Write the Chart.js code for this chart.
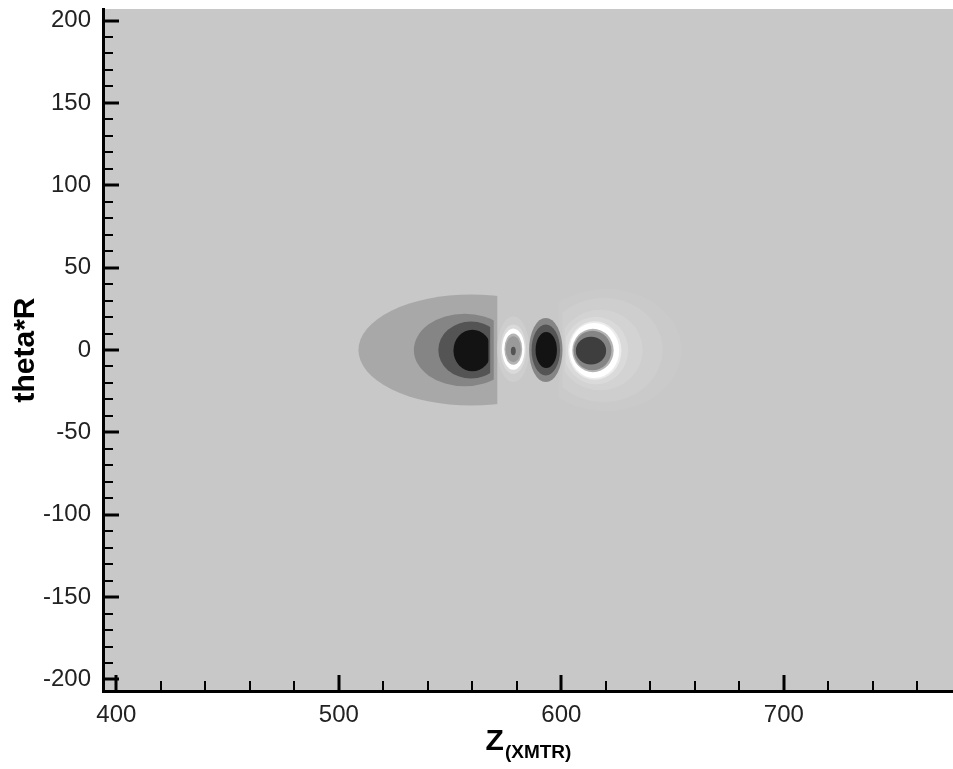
<!DOCTYPE html>
<html lang="en">
<head>
<meta charset="UTF-8">
<title>theta*R over Z(XMTR)</title>
<script src="https://cdn.jsdelivr.net/npm/chart.js"></script>
<style>
  html, body { margin: 0; padding: 0; background: #fff; }
  canvas { display: block; }
</style>
</head>
<body>
<canvas id="contourChart" width="953" height="769"></canvas>
<script>
// axis ranges and tick labels
const zRange = [394, 776];
const thetaRange = [-207, 207];
const zTicks = [400, 500, 600, 700];
const thetaTicks = [-200, -150, -100, -50, 0, 50, 100, 150, 200];
const zMinorStep = 20;
const thetaMinorStep = 10;

// filled contour regions, in drawing order (outer levels first)
// centre (z, theta), half extents, optional clip limits in z, contour level
const regionZ     = [620, 619, 617.5, 615.5,  559.4, 556.5, 559.4, 560,   578.4, 578.4, 578.4, 578.4, 578.4, 578.4,  593, 593, 593.2,  615, 614.8, 614.2, 614, 613.3];
const regionTheta = [0, 0, 0, -0.3,           0, 0, 0, -0.3,              0.5, 0.5, 0.5, 0.5, 0.5, -0.6,            0, 0, 0,          -0.3, -0.3, -0.3, -0.3, -0.4];
const regionHalfZ = [34, 26.5, 19, 14.5,      50.6, 22.8, 14.7, 8.5,      7.2, 5.8, 5.1, 4, 3.4, 1.1,               7.5, 6.4, 4.8,    12, 11.2, 9.3, 8.5, 6.8];
const regionHalfT = [37, 31.5, 24.5, 20.5,    33.7, 22, 17.3, 12.6,       20, 15, 12.5, 9.5, 7.8, 2.6,              19.5, 15.5, 11,   17.8, 16.7, 13.2, 12, 8.4];
const regionZMin  = [599, 600.5, 601.5, 602,  null, null, null, null,     null, null, null, null, null, null,       null, null, null, null, null, null, null, null];
const regionZMax  = [null, null, null, null,  571.2, 569.6, 568, 567.2,   null, null, null, null, null, null,       null, null, null, null, null, null, null, null];
const regionLevel = [0.5, 1, 1.5, 2,          -1, -2, -3, -4,             1, 2, 3, -0.5, -1.5, -3,                  -2, -3, -4,       2.5, 3, -0.5, -2, -3.5];

// grey colour map for contour levels
const greyMap = [
  [-4, '#131313'], [-3.5, '#3e3e3e'], [-3, '#545454'], [-2, '#858585'], [-1.5, '#9a9a9a'],
  [-1, '#a8a8a8'], [-0.5, '#b4b4b4'], [0, '#c8c8c8'], [0.5, '#cacaca'], [1, '#cecece'],
  [1.5, '#d3d3d3'], [2, '#dadada'], [2.5, '#ececec'], [3, '#ffffff']
];
function shadeFor(level) {
  let best = greyMap[0];
  greyMap.forEach(g => { if (Math.abs(g[0] - level) < Math.abs(best[0] - level)) best = g; });
  return best[1];
}

const FONT = "'Liberation Sans', Arial, sans-serif";

// plot background and filled contours
const contourPlugin = {
  id: 'contours',
  beforeDraw(chart) {
    const { ctx, chartArea: a, scales: { x, y } } = chart;
    ctx.save();
    ctx.fillStyle = shadeFor(0);
    ctx.fillRect(a.left, a.top, a.width, a.height);
    ctx.beginPath();
    ctx.rect(a.left, a.top, a.width, a.height);
    ctx.clip();
    regionZ.forEach((zc, i) => {
      const cx = x.getPixelForValue(zc);
      const cy = y.getPixelForValue(regionTheta[i]);
      const rx = Math.abs(x.getPixelForValue(zc + regionHalfZ[i]) - cx);
      const ry = Math.abs(y.getPixelForValue(regionTheta[i] + regionHalfT[i]) - cy);
      const lo = regionZMin[i] == null ? a.left : x.getPixelForValue(regionZMin[i]);
      const hi = regionZMax[i] == null ? a.right : x.getPixelForValue(regionZMax[i]);
      ctx.save();
      ctx.beginPath();
      ctx.rect(lo, a.top, hi - lo, a.height);
      ctx.clip();
      ctx.beginPath();
      ctx.ellipse(cx, cy, rx, ry, 0, 0, Math.PI * 2);
      ctx.fillStyle = shadeFor(regionLevel[i]);
      ctx.fill();
      ctx.restore();
    });
    ctx.restore();
  }
};

// inward tick marks (major + minor) and the x title with its subscript
const axisPlugin = {
  id: 'axisDecor',
  afterDraw(chart) {
    const { ctx, chartArea: a, scales: { x, y } } = chart;
    ctx.save();
    ctx.strokeStyle = '#000';
    for (let v = Math.ceil(zRange[0] / zMinorStep) * zMinorStep; v <= zRange[1]; v += zMinorStep) {
      const major = zTicks.includes(v);
      const px = Math.round(x.getPixelForValue(v));
      ctx.lineWidth = major ? 3 : 2;
      ctx.beginPath();
      ctx.moveTo(px, a.bottom);
      ctx.lineTo(px, a.bottom - (major ? 16 : 10));
      ctx.stroke();
    }
    for (let v = Math.ceil(thetaRange[0] / thetaMinorStep) * thetaMinorStep; v <= thetaRange[1]; v += thetaMinorStep) {
      const major = thetaTicks.includes(v);
      const py = Math.round(y.getPixelForValue(v));
      ctx.lineWidth = major ? 3 : 2;
      ctx.beginPath();
      ctx.moveTo(a.left, py);
      ctx.lineTo(a.left + (major ? 16 : 10), py);
      ctx.stroke();
    }

    // x title: Z with (XMTR) subscript
    const main = 'Z', sub = '(XMTR)';
    ctx.fillStyle = '#000';
    ctx.textBaseline = 'alphabetic';
    ctx.font = 'bold 30px ' + FONT;
    const wMain = ctx.measureText(main).width;
    ctx.font = 'bold 19px ' + FONT;
    const wSub = ctx.measureText(sub).width;
    const x0 = (a.left + a.right) / 2 - (wMain + wSub) / 2;
    ctx.font = 'bold 30px ' + FONT;
    ctx.fillText(main, x0, 750);
    ctx.font = 'bold 19px ' + FONT;
    ctx.fillText(sub, x0 + wMain + 1, 758);
    ctx.restore();
  }
};

new Chart(document.getElementById('contourChart'), {
  type: 'scatter',
  data: { datasets: [] },
  options: {
    responsive: false,
    animation: false,
    layout: { padding: { top: 9, right: 0, left: 0, bottom: 0 } },
    plugins: { legend: { display: false }, tooltip: { enabled: false } },
    scales: {
      x: {
        type: 'linear',
        min: zRange[0],
        max: zRange[1],
        afterBuildTicks: axis => { axis.ticks = zTicks.map(v => ({ value: v })); },
        afterFit: axis => { axis.height = 78; axis.paddingLeft = 0; axis.paddingRight = 0; },
        grid: { display: false, drawTicks: false },
        border: { display: true, color: '#000', width: 3 },
        ticks: { autoSkip: false, maxRotation: 0, padding: 10, color: '#222', font: { family: FONT, size: 24 } }
      },
      y: {
        type: 'linear',
        min: thetaRange[0],
        max: thetaRange[1],
        afterBuildTicks: axis => { axis.ticks = thetaTicks.map(v => ({ value: v })); },
        afterFit: axis => { axis.width = 103; axis.paddingTop = 0; axis.paddingBottom = 0; },
        grid: { display: false, drawTicks: false },
        border: { display: true, color: '#000', width: 3 },
        ticks: { autoSkip: false, padding: 12, color: '#222', font: { family: FONT, size: 24 } },
        title: { display: true, text: 'theta*R', color: '#000', padding: { top: 8, bottom: 0 }, font: { family: FONT, size: 30, weight: 'bold' } }
      }
    }
  },
  plugins: [contourPlugin, axisPlugin]
});
</script>
</body>
</html>
